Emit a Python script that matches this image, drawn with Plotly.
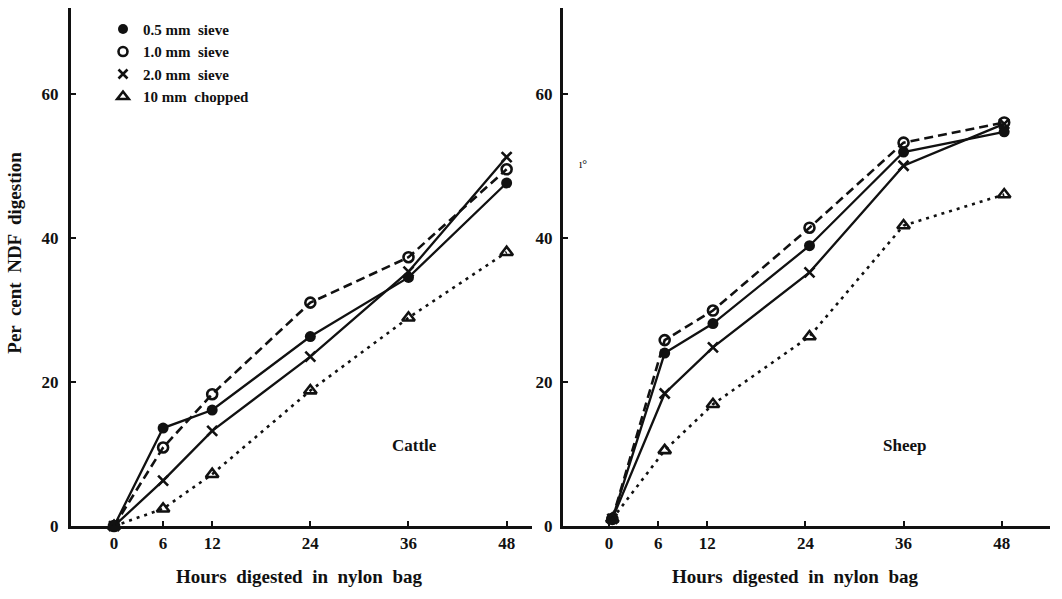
import plotly.graph_objects as go

# Sampling times (hours in nylon bag) and NDF digestion (%) per particle size
hours_cattle = [0, 6, 12, 24, 36, 48]
hours_sheep = [0.4, 6.8, 12.7, 24.5, 36.0, 48.3]

cattle_05 = [0, 13.6, 16.1, 26.3, 34.5, 47.6]
cattle_10 = [0, 10.9, 18.3, 31.0, 37.3, 49.5]
cattle_20 = [0, 6.3, 13.2, 23.5, 35.3, 51.2]
cattle_chop = [0, 2.4, 7.2, 18.8, 28.9, 38.0]

sheep_05 = [1.0, 24.0, 28.1, 38.9, 51.9, 54.7]
sheep_10 = [1.0, 25.8, 29.9, 41.4, 53.2, 56.0]
sheep_20 = [1.0, 18.4, 24.8, 35.2, 50.0, 55.8]
sheep_chop = [1.0, 10.5, 16.9, 26.3, 41.7, 46.0]

legend_labels = ["0.5 mm  sieve", "1.0 mm  sieve", "2.0 mm  sieve", "10 mm  chopped"]
hour_ticks = [0, 6, 12, 24, 36, 48]
pct_ticks = [0, 20, 40, 60]

W, H = 1062, 599
FONT = "Liberation Serif, Times New Roman, serif"
INK = "#111111"


def px(x):
    return x / W


def py(y):
    return 1 - y / H


styles = [
    dict(symbol="circle", size=11, color=INK, line=dict(width=0), dash="solid", lw=2.3),
    dict(symbol="circle-open", size=10, color=INK, line=dict(width=2.6, color=INK), dash="9px,5px", lw=2.6),
    dict(symbol="x-thin-open", size=10, color=INK, line=dict(width=2.6, color=INK), dash="solid", lw=2.3),
    dict(symbol="triangle-up-open", size=11, color=INK, line=dict(width=2.6, color=INK), dash="3px,5px", lw=2.6),
]

fig = go.Figure()

panels = [
    ("x", "y", hours_cattle, [cattle_05, cattle_10, cattle_20, cattle_chop]),
    ("x2", "y2", hours_sheep, [sheep_05, sheep_10, sheep_20, sheep_chop]),
]
for xa, ya, hrs, series in panels:
    for vals, st in zip(series, styles):
        fig.add_trace(go.Scatter(
            x=hrs, y=vals, xaxis=xa, yaxis=ya, mode="lines+markers",
            line=dict(color=INK, width=st["lw"], dash=st["dash"]),
            marker=dict(symbol=st["symbol"], size=st["size"], color=st["color"], line=st["line"]),
            cliponaxis=False, showlegend=False,
        ))

# Marker-only key entries
for label, st in zip(legend_labels, styles):
    fig.add_trace(go.Scatter(
        x=[None], y=[None], xaxis="x", yaxis="y", mode="markers", name=label,
        marker=dict(symbol=st["symbol"], size=st["size"] - 1, color=st["color"], line=st["line"]),
    ))

axis_common = dict(
    showline=True, linewidth=3, linecolor=INK, showgrid=False, zeroline=False,
    ticks="inside", ticklen=5, tickwidth=2, tickcolor=INK,
    tickfont=dict(family=FONT, size=17, color=INK, weight="bold"),
)
y_bottom, y_top = py(535), py(8)

fig.update_layout(
    width=W, height=H,
    margin=dict(l=0, r=0, t=0, b=0),
    paper_bgcolor="white", plot_bgcolor="white",
    font=dict(family=FONT, color=INK),
    xaxis=dict(domain=[px(71), px(532)], range=[-5.26, 51.1], tickvals=hour_ticks,
               anchor="y", **axis_common),
    yaxis=dict(domain=[y_bottom, y_top], range=[0, 71.9], tickvals=pct_ticks,
               anchor="x", ticklabelstandoff=6, **axis_common),
    xaxis2=dict(domain=[px(563), px(1050)], range=[-5.63, 53.9], tickvals=hour_ticks,
                anchor="y2", **axis_common),
    yaxis2=dict(domain=[y_bottom, y_top], range=[0, 71.9], tickvals=pct_ticks,
                anchor="x2", ticklabelstandoff=4, **axis_common),
    legend=dict(x=px(103), y=py(13), xanchor="left", yanchor="top",
                bgcolor="rgba(0,0,0,0)", tracegroupgap=0, itemwidth=30,
                font=dict(family=FONT, size=15, color=INK, weight="bold")),
)

text_font = dict(family=FONT, size=19, color=INK, weight="bold")
label_font = dict(family=FONT, size=17, color=INK, weight="bold")
annotations = [
    dict(text="Per  cent  NDF  digestion", x=px(15), y=py(257), textangle=-90, font=text_font),
    dict(text="Hours  digested  in  nylon  bag", x=px(299), y=py(586), font=text_font),
    dict(text="Hours  digested  in  nylon  bag", x=px(795), y=py(586), font=text_font),
    dict(text="Cattle", x=px(414), y=py(453), font=label_font),
    dict(text="Sheep", x=px(904), y=py(453), font=label_font),
    dict(text="ı°", x=px(583), y=py(167), font=dict(family=FONT, size=12, color=INK)),
]
for a in annotations:
    fig.add_annotation(xref="paper", yref="paper", showarrow=False,
                       xanchor="center", yanchor="middle", **a)

fig.write_html("out.html")
